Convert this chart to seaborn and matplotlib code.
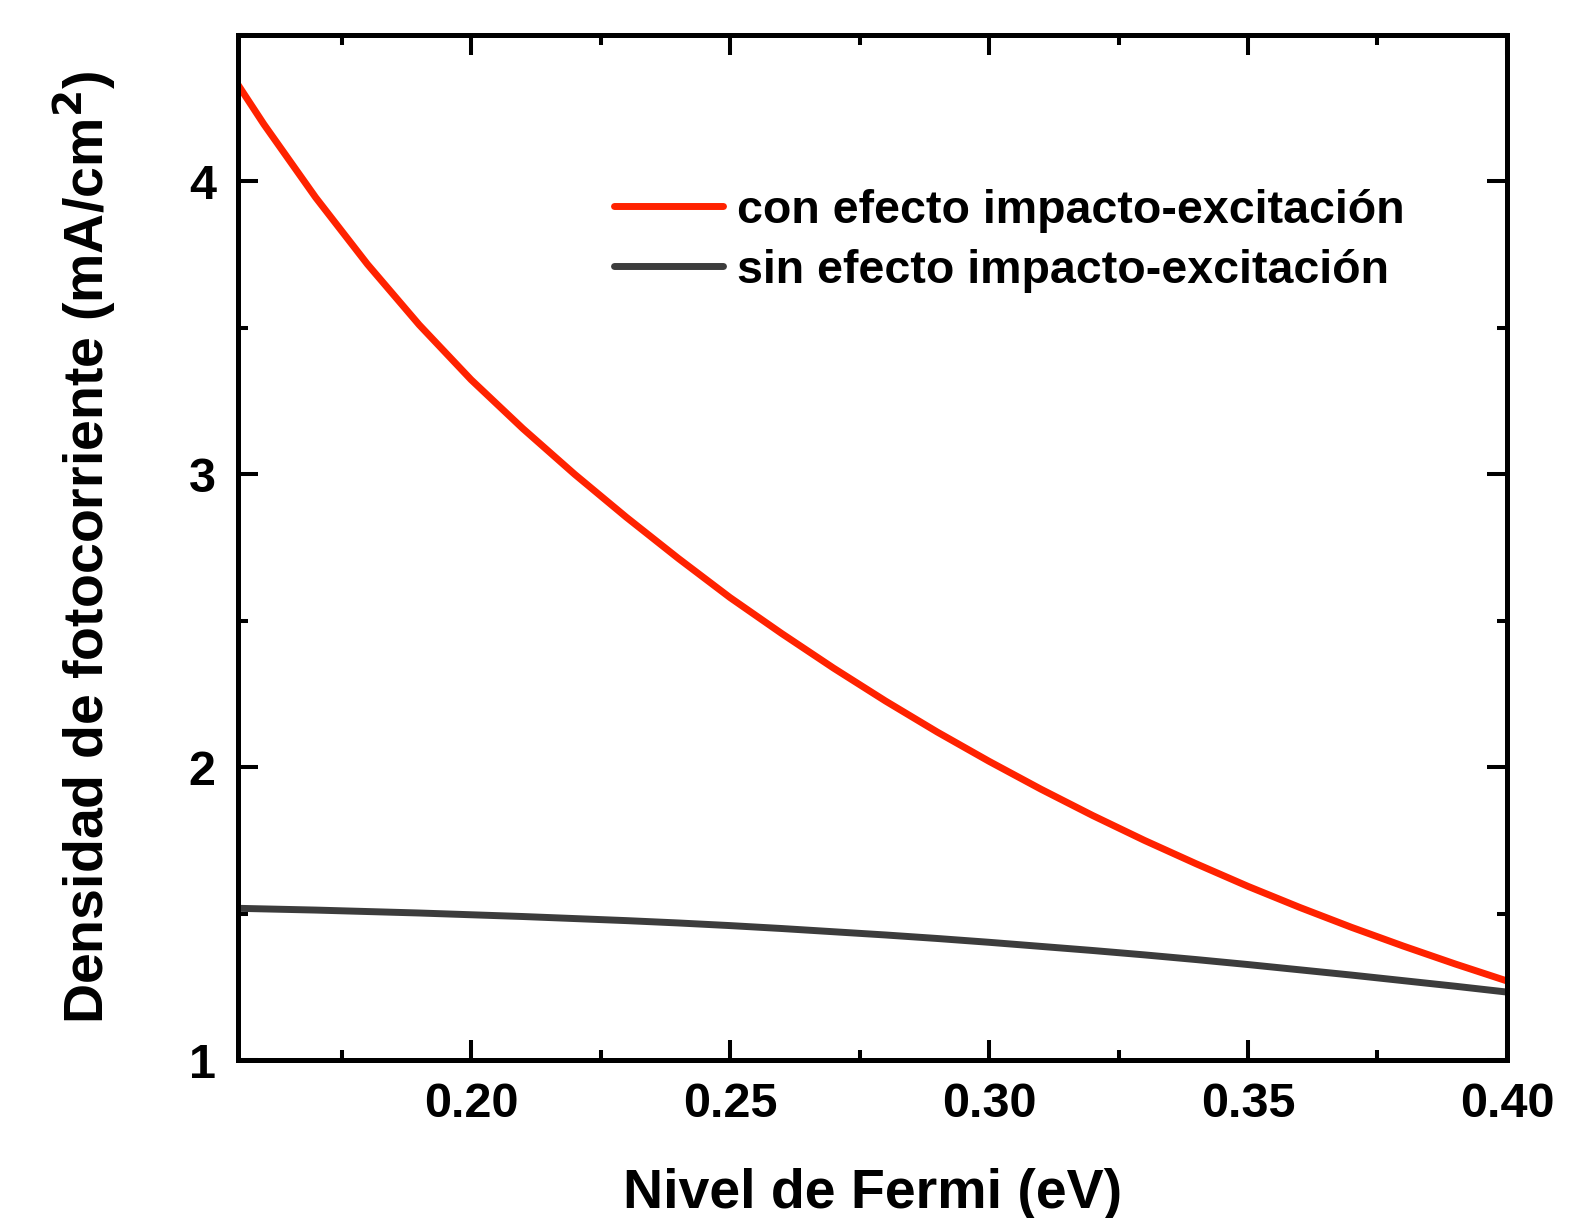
import numpy as np
import pandas as pd
import matplotlib
matplotlib.use("Agg")
import matplotlib.pyplot as plt
from matplotlib.ticker import MultipleLocator, FormatStrFormatter
import seaborn as sns

# ---- data ----
fermi = [0.155, 0.16, 0.17, 0.18, 0.19, 0.20, 0.21, 0.22, 0.23, 0.24, 0.25,
         0.26, 0.27, 0.28, 0.29, 0.30, 0.31, 0.32, 0.33, 0.34, 0.35, 0.36,
         0.37, 0.38, 0.39, 0.40]
con_efecto = [4.33, 4.195, 3.945, 3.717, 3.510, 3.323, 3.156, 3.000, 2.853, 2.713,
              2.579, 2.456, 2.338, 2.226, 2.120, 2.020, 1.925, 1.835, 1.750,
              1.670, 1.593, 1.521, 1.453, 1.389, 1.328, 1.270]
sin_efecto = [1.518, 1.516, 1.512, 1.507, 1.502, 1.496, 1.490, 1.483, 1.476,
              1.468, 1.459, 1.449, 1.438, 1.427, 1.415, 1.402, 1.388, 1.374,
              1.359, 1.343, 1.326, 1.308, 1.290, 1.271, 1.252, 1.232]
series_names = ["con efecto impacto-excitación", "sin efecto impacto-excitación"]
series_colors = ["#ff2200", "#3c3c3c"]
x_ticks = [0.20, 0.25, 0.30, 0.35, 0.40]
y_ticks = [1, 2, 3, 4]

df = pd.DataFrame({
    "x": fermi + fermi,
    "y": con_efecto + sin_efecto,
    "serie": [series_names[0]] * len(fermi) + [series_names[1]] * len(fermi),
})

sns.set_style("ticks")
plt.rcParams["font.family"] = ["Liberation Sans", "DejaVu Sans"]
plt.rcParams["font.weight"] = "bold"
for k in ["text.color", "axes.labelcolor", "xtick.color", "ytick.color",
          "axes.edgecolor"]:
    plt.rcParams[k] = "black"

fig = plt.figure(figsize=(15.94, 12.18), dpi=100)
ax = fig.add_axes([0.1493, 0.1297, 0.9454 - 0.1493, 0.9713 - 0.1297])

sns.lineplot(data=df, x="x", y="y", hue="serie", hue_order=series_names,
             palette=dict(zip(series_names, series_colors)), linewidth=5,
             ax=ax, legend=True)

ax.set_xlim(0.155, 0.40)
ax.set_ylim(1, 4.5)
ax.set_xticks(x_ticks)
ax.set_yticks(y_ticks)
ax.xaxis.set_major_formatter(FormatStrFormatter("%.2f"))
ax.yaxis.set_major_formatter(FormatStrFormatter("%d"))
ax.xaxis.set_minor_locator(MultipleLocator(0.025))
ax.yaxis.set_minor_locator(MultipleLocator(0.5))

for s in ax.spines.values():
    s.set_visible(True)
    s.set_linewidth(3.6)
    s.set_color("black")

ax.tick_params(which="both", direction="in", top=True, right=True,
               width=2.9, color="black", labelcolor="black")
ax.tick_params(which="major", length=14.4, labelsize=35, pad=16)
ax.tick_params(which="minor", length=7.2)
for lbl in ax.get_xticklabels() + ax.get_yticklabels():
    lbl.set_fontweight("bold")

ax.set_xlabel("Nivel de Fermi (eV)", fontsize=40, fontweight="bold",
              labelpad=29, color="black")
ax.set_ylabel("Densidad de fotocorriente (mA/cm$^\\mathbf{2}$)", fontsize=40,
              fontweight="bold", labelpad=50, color="black")

leg = ax.legend(loc="upper left", bbox_to_anchor=(0.2964, 0.85), frameon=False,
                fontsize=33.5, handlelength=2.35, handletextpad=0.3,
                labelspacing=0.34, borderpad=0, borderaxespad=0)
for t in leg.get_texts():
    t.set_fontweight("bold")
    t.set_color("black")
for h in leg.get_lines():
    h.set_linewidth(5)

fig.savefig("out.png", dpi=100)
